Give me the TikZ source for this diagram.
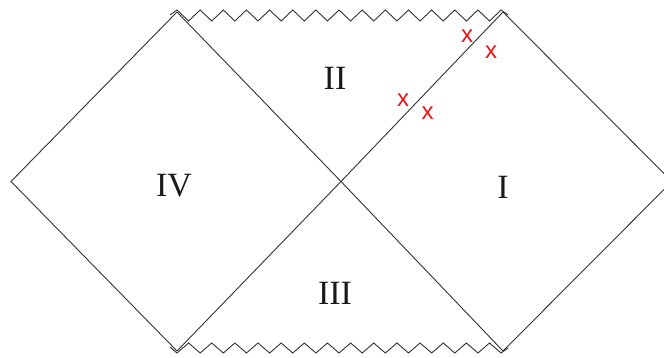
\documentclass[tikz,border=0pt]{standalone}
\usepackage{fontspec}
\setmainfont{Liberation Serif}
\newfontfamily\marksfont{Liberation Sans}
\usetikzlibrary{positioning}
\definecolor{edge}{RGB}{50, 50, 50}
\definecolor{mark}{RGB}{240, 20, 20}

\begin{document}
\begin{tikzpicture}[
  x=1pt, y=-1pt,
  wall/.style={draw=edge, line width=0.9pt, line join=miter},
  lab/.style={font=\fontsize{34}{40}\selectfont, text=black!90, inner sep=0pt},
  cross/.style={font=\marksfont\fontsize{24}{28}\selectfont, text=mark, inner sep=0pt}
]
\useasboundingbox (0,0) rectangle (664,358);
% corners of the diagram
\coordinate (L)  at (11,181.5);
\coordinate (TL) at (177,12);
\coordinate (BL) at (177,351);
\coordinate (C)  at (341,181.5);
\coordinate (TR) at (503,12);
\coordinate (BR) at (503,351);
\coordinate (R)  at (672,181.5);
% light cone lines
\draw[wall] (TL) -- (L) -- (BL);
\draw[wall] (TR) -- (R) -- (BR);
\draw[wall] (TL) -- (C) -- (BR);
\draw[wall] (BL) -- (C) -- (TR);
% singularities
\draw[wall] (170,15) -- (177,10)
  \foreach \i in {1,...,14} { -- ++(11.575,11) -- ++(11.575,-11) } -- ++(7,5);
\draw[wall] (170,347) -- (177,353)
  \foreach \i in {1,...,14} { -- ++(11.575,-10) -- ++(11.575,10) } -- ++(7,-5);
% regions
\node[lab] (regII)  at (335,78)  {II};
\node[lab] (regIV)  at (174,186) {IV};
\node[lab] (regI)   at (503,187) {I};
\node[lab] (regIII) at (335,293) {III};
% marks near the horizon
\node[cross] (xa) at (467,36)  {x};
\node[cross] (xb) at (491,52)  {x};
\node[cross] (xc) at (403,100) {x};
\node[cross] (xd) at (427.5,113) {x};
\end{tikzpicture}
\end{document}
